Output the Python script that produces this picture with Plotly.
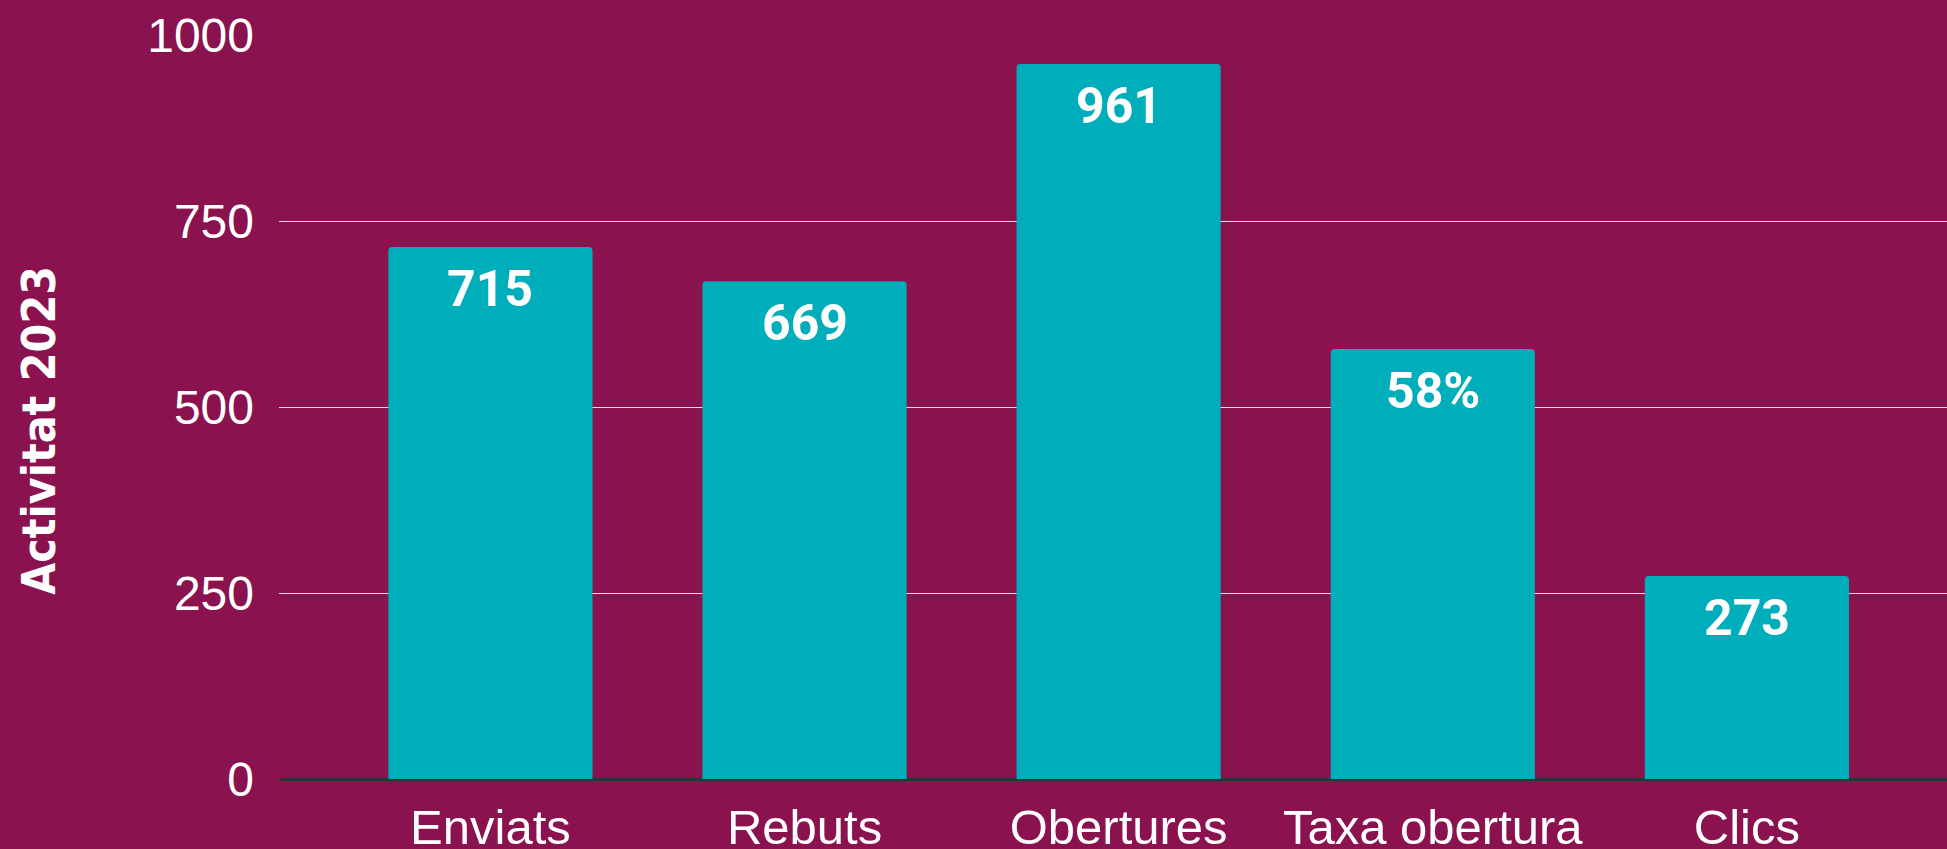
import plotly.graph_objects as go

categories = ["Enviats", "Rebuts", "Obertures", "Taxa obertura", "Clics"]
values = [715, 669, 961, 578, 273]
labels = ["715", "669", "961", "58%", "273"]
y_ticks = [0, 250, 500, 750, 1000]
axis_title = "Activitat 2023"

BG = "#89124F"
BAR = "#00ADBA"

fig = go.Figure()
fig.add_trace(go.Bar(
    x=categories, y=values,
    marker=dict(color=BAR, line=dict(width=0), cornerradius=4),
    hoverinfo="skip",
))

for c, v, t in zip(categories, values, labels):
    fig.add_annotation(
        x=c, y=v, xref="x", yref="y", text=f"<b>{t}</b>", showarrow=False,
        yanchor="top", yshift=-11,
        font=dict(family="Roboto", size=50, color="white"),
    )

fig.add_annotation(
    xref="paper", yref="paper", x=-0.1436, y=0.4687, text=f"<b>{axis_title}</b>",
    textangle=-90, showarrow=False, xanchor="center", yanchor="middle",
    font=dict(family="Liberation Sans Narrow, DejaVu Sans Condensed, Arial Narrow", size=46, color="white"),
)

fig.update_layout(
    width=1947, height=849,
    paper_bgcolor=BG, plot_bgcolor=BG,
    margin=dict(l=279, r=0, t=35, b=70, pad=0, autoexpand=False),
    bargap=0.35,
    showlegend=False,
    font=dict(family="Liberation Sans, Arial", color="white", size=49),
)
fig.update_xaxes(
    range=[-0.673, 4.637], showgrid=False, zeroline=False,
    showline=False, ticks="", tickfont=dict(size=49, color="white"),
    ticklabelstandoff=15, automargin=False,
)
fig.update_yaxes(
    range=[0, 1000], tickvals=y_ticks, showgrid=True, gridcolor="#E0E0E0", gridwidth=1.3,
    zeroline=True, zerolinecolor="#333333", zerolinewidth=3,
    showline=False, ticks="", tickfont=dict(size=48, color="white"),
    ticklabelstandoff=24, automargin=False,
)

fig.write_html(
    "out.html",
    config={"displayModeBar": False},
    post_script="document.body.style.margin='0';document.body.style.overflow='hidden';",
)
